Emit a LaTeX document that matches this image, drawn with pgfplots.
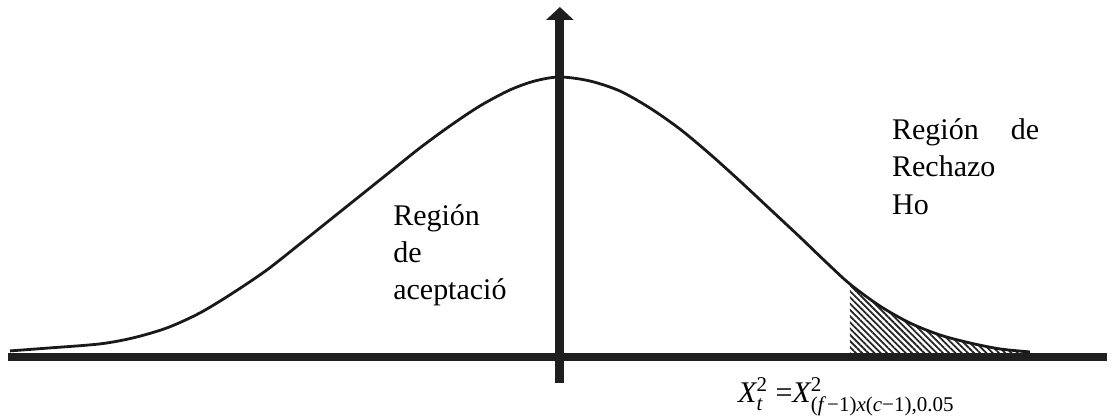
\documentclass[border=0pt]{standalone}
\usepackage{amsmath}
\usepackage{fontspec}
\setmainfont{Liberation Serif}
\usepackage{pgfplots}
\usepackage{pgfplotstable}
\pgfplotsset{compat=1.18}
\usepgfplotslibrary{fillbetween}
\usetikzlibrary{arrows.meta,patterns.meta}

% curve (x in px, y = height above bottom)
\pgfplotstableread{
x    y
10   67
50   70
100  74
133  80
167  90
200  105
233  125
267  148
300  174
330  198
360  222
390  246
420  270
450  292
480  312
510  328
535  337
560  341
590  337
620  327
650  310
680  289
710  264
740  237
770  209
800  181
825  157
850  134
880  112
910  95
940  83
970  75
1000 69
1030 66
}\curvedata

\begin{document}
\begin{tikzpicture}
\begin{axis}[
    scale only axis,
    width=555.5pt, height=209pt,
    xmin=0, xmax=1111, ymin=0, ymax=418,
    hide axis, clip=false,
]
\path (axis cs:0,0) rectangle (axis cs:1111,418);

\addplot[name path=curve, smooth, tension=0.5, line width=1.4pt, color=black!90] table {\curvedata};
\addplot[name path=base, draw=none] coordinates {(0,65) (1111,65)};
\addplot[pattern={Lines[angle=-45,distance=2.2pt,line width=0.9pt]}, pattern color=black!85]
    fill between[of=curve and base, soft clip={domain=850:1030}];

% axes
\draw[line width=4.3pt, color=black!88] (axis cs:8,61) -- (axis cs:1107,61);
\draw[line width=4.5pt, color=black!88, -{Triangle[width=13.5pt,length=6.5pt]}]
    (axis cs:560,35) -- (axis cs:560,411);

% labels
\tikzset{lbl/.style={anchor=base west, inner sep=0pt, font=\fontsize{15}{18}\selectfont}}
\node[lbl] at (axis cs:393,192) {Región};
\node[lbl] at (axis cs:393,155) {de};
\node[lbl] at (axis cs:393,118) {aceptació};

\node[lbl] at (axis cs:892,278) {\makebox[73.5pt][l]{Región\hfill de}};
\node[lbl] at (axis cs:892,241) {Rechazo};
\node[lbl] at (axis cs:892,203) {Ho};

\node[anchor=base west, inner sep=0pt, font=\fontsize{15}{17}\selectfont] at (axis cs:738,15)
    {$\textit{X}_{\textit{t}}^{\text{2}}\ \text{=}\textit{X}^{\text{2}}_{\text{(}\textit{f}\,\text{−1)}\textit{x}\text{(}\textit{c}\text{−1),0.05}}$};
\end{axis}
\end{tikzpicture}
\end{document}
